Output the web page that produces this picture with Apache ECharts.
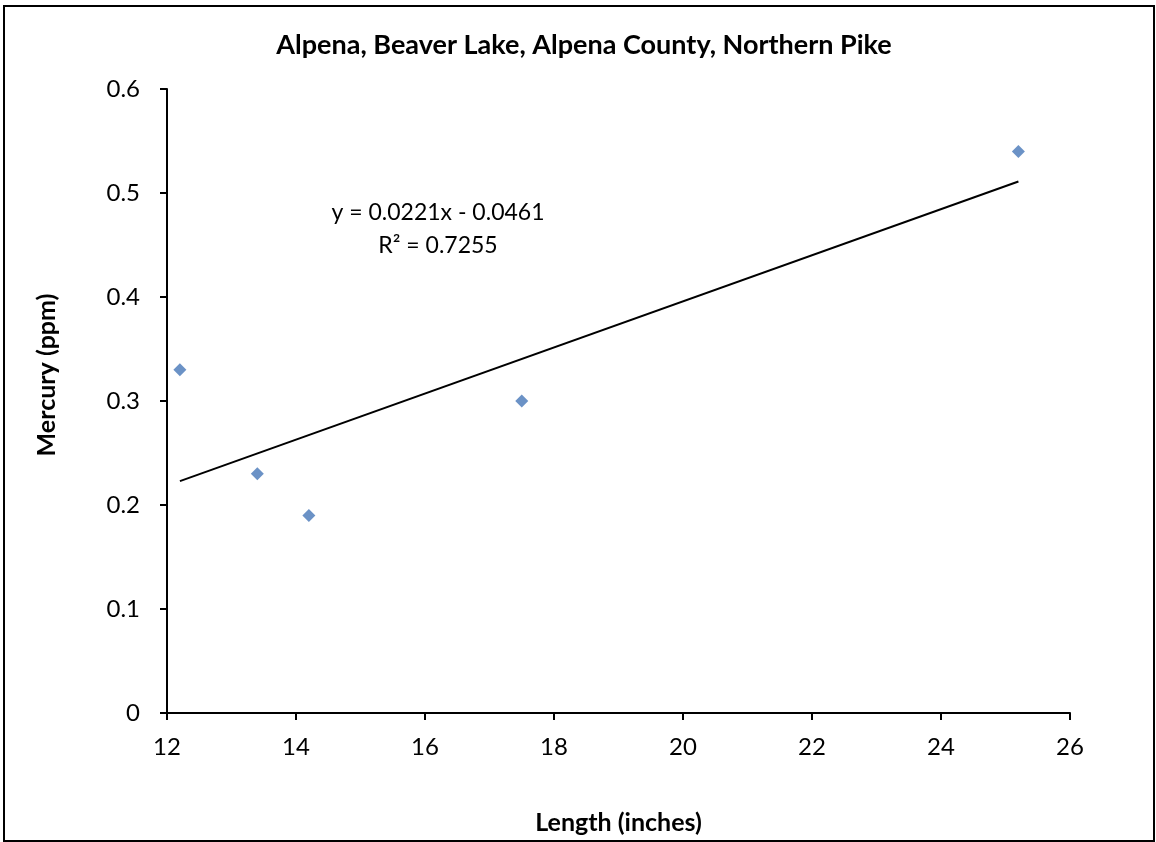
<!DOCTYPE html>
<html>
<head>
<meta charset="utf-8">
<script src="https://cdn.jsdelivr.net/npm/echarts@6/dist/echarts.min.js"></script>
<style>
html,body{margin:0;padding:0;background:#fff;}
#c{width:1156px;height:842px;}
</style>
</head>
<body>
<div id="c"></div>
<script>
const titleText = 'Alpena, Beaver Lake, Alpena County, Northern Pike';
const xName = 'Length (inches)';
const yName = 'Mercury (ppm)';
const lengths = [12.2, 13.4, 14.2, 17.5, 25.2];
const mercury = [0.33, 0.23, 0.19, 0.30, 0.54];
const trendX = [12.2, 25.2];
const trendY = [0.223, 0.511];
const equationLines = ['y = 0.0221x - 0.0461', 'R² = 0.7255'];

const FONT = 'Lato, "Open Sans", sans-serif';
const chart = echarts.init(document.getElementById('c'), null, {renderer: 'canvas'});
const points = lengths.map((x, i) => [x, mercury[i]]);
const trend = trendX.map((x, i) => [x, trendY[i]]);

chart.setOption({
  animation: false,
  backgroundColor: '#fff',
  title: {
    text: titleText,
    left: 579, top: 27, textAlign: 'center',
    textStyle: {fontFamily: FONT, fontWeight: 'bold', fontSize: 27, color: '#000'}
  },
  grid: {left: 167, right: 86, top: 89, bottom: 129, containLabel: false},
  xAxis: {
    type: 'value', min: 12, max: 26, interval: 2,
    name: xName, nameLocation: 'middle', nameGap: 97,
    nameTextStyle: {fontFamily: FONT, fontWeight: 'bold', fontSize: 25, color: '#000'},
    axisLine: {lineStyle: {color: '#000', width: 2}},
    axisTick: {show: true, inside: false, length: 7, lineStyle: {color: '#000', width: 2}},
    axisLabel: {fontFamily: FONT, fontSize: 24, color: '#000', margin: 22},
    splitLine: {show: false}
  },
  yAxis: {
    type: 'value', min: 0, max: 0.6, interval: 0.1,
    name: yName, nameLocation: 'middle', nameGap: 108, nameRotate: 90,
    nameTextStyle: {fontFamily: FONT, fontWeight: 'bold', fontSize: 25, color: '#000', padding: [0, 0, 0, 52]},
    axisLine: {show: true, lineStyle: {color: '#000', width: 2}},
    axisTick: {show: true, inside: false, length: 7, lineStyle: {color: '#000', width: 2}},
    axisLabel: {fontFamily: FONT, fontSize: 24, color: '#000', margin: 27},
    splitLine: {show: false}
  },
  series: [
    {
      type: 'line', data: trend, symbol: 'none',
      lineStyle: {color: '#000', width: 2}, z: 2
    },
    {
      type: 'scatter', data: points, symbol: 'diamond', symbolSize: 13,
      itemStyle: {color: '#4677b8'}, z: 3
    }
  ],
  graphic: [
    {type: 'rect', shape: {x: 4, y: 6, width: 1150, height: 835},
     style: {fill: 'none', stroke: '#000', lineWidth: 2}, silent: true},
    {type: 'text', position: [438, 213],
     style: {text: equationLines[0], fontFamily: FONT, fontSize: 23, fill: '#000', textAlign: 'center', textVerticalAlign: 'middle'}},
    {type: 'text', position: [438, 246],
     style: {text: equationLines[1], fontFamily: FONT, fontSize: 23, fill: '#000', textAlign: 'center', textVerticalAlign: 'middle'}}
  ]
});
</script>
</body>
</html>
